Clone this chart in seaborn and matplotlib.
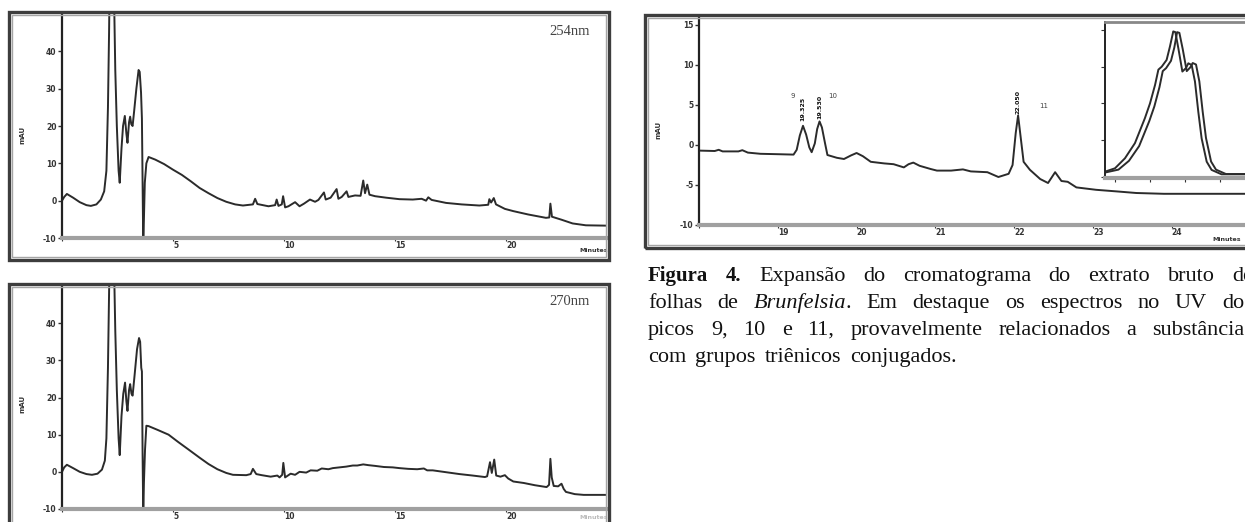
import matplotlib
matplotlib.use("Agg")
import matplotlib.pyplot as plt
import seaborn as sns
from matplotlib.patches import Rectangle

sns.set_theme(style="white")
plt.rcParams['font.family'] = ['DejaVu Sans']

W, H = 1245, 522

# --- 254 nm chromatogram (minutes, mAU) ---
t254 = [0.00, 0.10, 0.22, 0.50, 0.80, 1.10, 1.30, 1.55, 1.75, 1.90, 2.00, 2.07, 2.12, 2.15, 2.33,
        2.40, 2.47, 2.55, 2.60, 2.68, 2.75, 2.83, 2.90, 2.95, 3.02, 3.07, 3.12, 3.18, 3.25, 3.35,
        3.45, 3.50, 3.56, 3.60, 3.63, 3.66, 3.69, 3.73, 3.80, 3.90, 4.20, 4.60, 5.00, 5.40, 5.80,
        6.20, 6.60, 7.00, 7.40, 7.80, 8.15, 8.60, 8.70, 8.80, 9.30, 9.60, 9.67, 9.75, 9.90, 9.96,
        10.05, 10.20, 10.50, 10.70, 10.90, 11.17, 11.40, 11.55, 11.80, 11.88, 12.10, 12.37, 12.45,
        12.60, 12.82, 12.90, 13.20, 13.45, 13.57, 13.65, 13.75, 13.85, 14.10, 14.60, 15.20, 15.80,
        16.20, 16.40, 16.50, 16.65, 17.30, 18.00, 18.80, 19.20, 19.25, 19.33, 19.45, 19.55, 19.95,
        20.33, 21.00, 21.80, 21.95, 22.00, 22.07, 22.50, 23.00, 23.60, 24.60]
v254 = [0.0, 1.0, 1.8, 0.8, -0.4, -1.2, -1.4, -1.0, 0.3, 2.5, 8.0, 25.0, 45.0, 60.0, 60.0,
        35.0, 20.0, 8.0, 4.8, 14.0, 20.0, 22.7, 18.0, 15.5, 21.0, 22.5, 20.5, 20.0, 24.0, 30.0,
        35.0, 34.5, 29.0, 22.0, 5.0, -12.0, -5.0, 4.8, 10.0, 11.7, 11.0, 9.8, 8.3, 6.9, 5.2,
        3.4, 2.0, 0.7, -0.3, -1.0, -1.3, -1.0, 0.5, -0.9, -1.5, -1.2, 0.3, -1.4, -1.0, 1.2,
        -1.8, -1.5, -0.4, -1.5, -0.8, 0.3, -0.3, 0.2, 2.2, 0.3, 0.8, 3.1, 0.5,
        1.0, 2.5, 1.0, 1.4, 1.3, 5.4, 2.0, 4.3, 1.6, 1.2, 0.8, 0.4, 0.3,
        0.5, 0.0, 0.9, 0.2, -0.6, -1.0, -1.3, -1.1, 0.4, -0.5, 0.7, -1.0, -2.2,
        -2.8, -3.7, -4.6, -4.5, -0.8, -4.3, -5.1, -6.1, -6.6, -6.7]

# --- 270 nm chromatogram ---
t270 = [0.00, 0.10, 0.22, 0.50, 0.80, 1.10, 1.35, 1.60, 1.80, 1.93, 2.00, 2.07, 2.12, 2.15, 2.33,
        2.40, 2.47, 2.55, 2.60, 2.68, 2.76, 2.84, 2.90, 2.95, 3.02, 3.07, 3.13, 3.18, 3.27, 3.38,
        3.47, 3.52, 3.57, 3.60, 3.63, 3.66, 3.69, 3.74, 3.80, 3.90, 4.30, 4.80, 5.24, 5.70, 6.20,
        6.60, 7.00, 7.40, 7.70, 8.30, 8.50, 8.60, 8.75, 9.00, 9.40, 9.70, 9.80, 9.92, 9.97, 10.05,
        10.30, 10.50, 10.70, 11.00, 11.20, 11.50, 11.70, 12.00, 12.20, 12.50, 12.80, 13.10, 13.30,
        13.57, 13.80, 14.10, 14.50, 14.90, 15.20, 15.60, 16.00, 16.30, 16.45, 16.70, 17.30, 17.90,
        18.50, 19.05, 19.15, 19.28, 19.36, 19.47, 19.56, 19.75, 19.95, 20.10, 20.33, 20.80, 21.30,
        21.83, 21.94, 22.00, 22.06, 22.15, 22.35, 22.50, 22.60, 22.70, 23.10, 23.50, 24.60]
v270 = [0.0, 1.2, 1.9, 1.0, 0.0, -0.6, -0.8, -0.5, 0.6, 3.0, 9.0, 28.0, 48.0, 60.0, 60.0,
        38.0, 22.0, 9.0, 4.5, 15.0, 21.0, 24.0, 19.0, 16.4, 22.0, 23.6, 21.0, 20.5, 26.0, 33.0,
        36.0, 35.0, 28.0, 27.0, 5.0, -12.0, -3.0, 6.0, 12.4, 12.3, 11.3, 10.0, 8.0, 6.0, 3.8,
        2.1, 0.7, -0.3, -0.8, -0.9, -0.6, 0.8, -0.6, -0.9, -1.3, -1.0, -1.5, -0.8, 2.4, -1.5,
        -0.5, -0.8, 0.0, -0.2, 0.4, 0.3, 0.9, 0.7, 1.0, 1.2, 1.4, 1.7, 1.7,
        2.0, 1.8, 1.6, 1.3, 1.2, 1.0, 0.8, 0.7, 0.9, 0.4, 0.4, -0.1, -0.6,
        -1.0, -1.4, -1.2, 2.6, -0.3, 3.3, -1.0, -1.3, -0.9, -1.8, -2.6, -3.0, -3.6,
        -4.1, -3.5, 3.5, -1.5, -3.8, -3.9, -3.2, -4.6, -5.4, -6.0, -6.2, -6.2]

# --- expansion 18-25 min ---
t_exp = [18.00, 18.20, 18.25, 18.30, 18.50, 18.55, 18.62, 18.78, 19.00, 19.20, 19.24, 19.28, 19.32,
         19.36, 19.40, 19.43, 19.47, 19.50, 19.53, 19.56, 19.60, 19.63, 19.75, 19.84, 19.93, 20.00,
         20.08, 20.18, 20.35, 20.47, 20.60, 20.66, 20.72, 20.80, 20.94, 21.02, 21.20, 21.35, 21.45,
         21.66, 21.80, 21.93, 21.98, 22.02, 22.05, 22.08, 22.12, 22.20, 22.33, 22.43, 22.52, 22.60,
         22.68, 22.79, 23.04, 23.30, 23.55, 23.90, 24.18, 25.00]
v_exp = [-0.70, -0.75, -0.60, -0.80, -0.80, -0.65, -0.95, -1.10, -1.15, -1.20, -0.60, 1.20, 2.40,
         1.30, -0.30, -0.90, 0.20, 2.00, 2.95, 2.20, 0.20, -1.25, -1.60, -1.75, -1.30, -1.00,
         -1.40, -2.10, -2.30, -2.40, -2.80, -2.40, -2.20, -2.60, -3.00, -3.20, -3.20, -3.05, -3.30,
         -3.40, -4.00, -3.60, -2.50, 1.50, 3.70, 1.20, -2.10, -3.10, -4.25, -4.75, -3.40, -4.50,
         -4.60, -5.30, -5.60, -5.80, -6.00, -6.10, -6.10, -6.10]

peak_ids = ["9", "10", "11"]
peak_rt = [19.32, 19.53, 22.05]
peak_rt_txt = ["19.325", "19.530", "22.050"]

# --- UV spectra inset (nm, normalised absorbance) ---
lam_a = [214.3, 220.0, 225.7, 231.4, 237.1, 240.0, 242.9, 244.8, 246.7, 249.5, 251.4, 253.3, 254.5,
         256.2, 258.5, 260.5, 261.9, 263.8, 265.7, 267.6, 269.5, 272.4, 275.2, 280.9, 305.0]
abs_a = [0.036, 0.059, 0.127, 0.230, 0.400, 0.500, 0.626, 0.730, 0.750, 0.796, 0.887, 0.990, 0.985,
         0.876, 0.717, 0.740, 0.773, 0.762, 0.649, 0.444, 0.263, 0.104, 0.048, 0.018, 0.018]
lam_b = [214.3, 222.0, 228.0, 233.8, 239.6, 242.5, 245.4, 247.3, 249.2, 252.0, 253.9, 255.5, 256.8,
         258.7, 261.0, 263.0, 264.4, 266.3, 268.2, 270.1, 272.0, 274.9, 277.7, 283.4, 305.0]
abs_b = [0.030, 0.050, 0.110, 0.210, 0.380, 0.480, 0.610, 0.720, 0.740, 0.790, 0.880, 0.985, 0.980,
         0.870, 0.720, 0.745, 0.775, 0.765, 0.650, 0.445, 0.265, 0.105, 0.050, 0.020, 0.020]

fig = plt.figure(figsize=(W / 100, H / 100), dpi=100)
fig.patch.set_facecolor('white')


def px_axes(l, t, r, b):
    return fig.add_axes([l / W, 1 - b / H, (r - l) / W, (b - t) / H])


def frame(l, t, r, b):
    fig.patches.append(Rectangle((l / W, 1 - b / H), (r - l) / W, (b - t) / H, transform=fig.transFigure,
                                 fill=False, edgecolor='#3d3d3d', lw=2.4, zorder=0))
    fig.patches.append(Rectangle(((l + 3) / W, 1 - (b - 3) / H), (r - l - 6) / W, (b - t - 6) / H,
                                 transform=fig.transFigure, fill=False, edgecolor='#a5a5a5', lw=1.0, zorder=0))


def style_chrom(ax, xlim, ylim, xticks, yticks):
    ax.set_xlim(*xlim)
    ax.set_ylim(*ylim)
    ax.set_facecolor('none')
    ax.spines['top'].set_visible(False)
    ax.spines['right'].set_visible(False)
    ax.spines['left'].set_color('#222222')
    ax.spines['left'].set_linewidth(1.6)
    ax.spines['bottom'].set_color('#a0a0a0')
    ax.spines['bottom'].set_linewidth(3)
    ax.set_yticks(yticks)
    ax.set_yticklabels([str(v) for v in yticks], fontsize=5.5, fontweight='bold', color='#333333')
    ax.set_xticks(xticks)
    ax.set_xticklabels([''] + [str(v) for v in xticks[1:]], fontsize=5.5, fontweight='bold',
                       color='#333333', ha='left')
    ax.tick_params(axis='y', direction='out', length=3, width=1, pad=1, colors='#333333', left=True)
    ax.tick_params(axis='x', direction='out', length=2, width=0.8, pad=0.5, colors='#333333', bottom=True)
    ax.set_xlabel('')
    ax.set_ylabel('')
    ax.grid(False)


line_kw = dict(color='#2b2b2b', linewidth=1.4, estimator=None, sort=False)

# frames
frame(9, 12, 609, 260)
frame(9, 284, 609, 540)
frame(645, 15, 1262, 248)

# top-left: 254 nm
ax1 = px_axes(62, 14, 607, 238)
sns.lineplot(x=t254, y=v254, ax=ax1, **line_kw)
style_chrom(ax1, (0, 24.55), (-10, 50), [0, 5, 10, 15, 20], [-10, 0, 10, 20, 30, 40])
ax1.text(-0.073, 0.46, 'mAU', transform=ax1.transAxes, rotation=90, fontsize=5, fontweight='bold',
         ha='center', va='center', color='#333333')
ax1.text(0.95, -0.055, 'Minutes', transform=ax1.transAxes, fontsize=4.5, fontweight='bold',
         ha='left', va='center', color='#333333')
ax1.text(0.895, 0.92, '254nm', transform=ax1.transAxes, fontsize=10.5, family='Liberation Serif',
         ha='left', va='center', color='#444444')

# bottom-left: 270 nm
ax2 = px_axes(62, 286, 607, 509)
sns.lineplot(x=t270, y=v270, ax=ax2, **line_kw)
style_chrom(ax2, (0, 24.55), (-10, 50), [0, 5, 10, 15, 20], [-10, 0, 10, 20, 30, 40])
ax2.text(-0.073, 0.47, 'mAU', transform=ax2.transAxes, rotation=90, fontsize=5, fontweight='bold',
         ha='center', va='center', color='#333333')
ax2.text(0.95, -0.04, 'Minutes', transform=ax2.transAxes, fontsize=4.5, fontweight='bold',
         ha='left', va='center', color='#bbbbbb')
ax2.text(0.895, 0.93, '270nm', transform=ax2.transAxes, fontsize=10.5, family='Liberation Serif',
         ha='left', va='center', color='#444444')

# right: expansion
ax3 = px_axes(699, 17, 1245, 225)
sns.lineplot(x=t_exp, y=v_exp, ax=ax3, **line_kw)
style_chrom(ax3, (18, 24.93), (-10, 16), [18, 19, 20, 21, 22, 23, 24], [-10, -5, 0, 5, 10, 15])
ax3.text(-0.075, 0.457, 'mAU', transform=ax3.transAxes, rotation=90, fontsize=5, fontweight='bold',
         ha='center', va='center', color='#333333')
ax3.text(0.94, -0.072, 'Minutes', transform=ax3.transAxes, fontsize=4.5, fontweight='bold',
         ha='left', va='center', color='#333333')
id_pos = [(19.19, 6.1), (19.70, 6.1), (22.37, 4.9)]
for pid, (px, py) in zip(peak_ids, id_pos):
    ax3.text(px, py, pid, fontsize=5, color='#444444', ha='center', va='center')
rt_base = [3.0, 3.25, 3.9]
for rt, txt, yb in zip(peak_rt, peak_rt_txt, rt_base):
    ax3.text(rt, yb, txt, rotation=90, fontsize=4.5, fontweight='bold', color='#111111',
             ha='center', va='bottom')

# inset with UV spectra
ax4 = px_axes(1105, 22, 1262, 178)
ax4.set_facecolor('white')
sns.lineplot(x=lam_a, y=abs_a, ax=ax4, **line_kw)
sns.lineplot(x=lam_b, y=abs_b, ax=ax4, **line_kw)
ax4.set_xlim(214.3, 304)
ax4.set_ylim(-0.007, 1.054)
ax4.set_xticks([220, 240, 260, 280])
ax4.set_yticks([0, 0.25, 0.5, 0.75, 1.0])
ax4.set_xticklabels([])
ax4.set_yticklabels([])
ax4.tick_params(axis='both', direction='out', length=3, width=0.8, colors='#333333',
                left=True, bottom=True)
ax4.spines['right'].set_visible(False)
ax4.spines['left'].set_color('#222222')
ax4.spines['left'].set_linewidth(1.4)
ax4.spines['bottom'].set_color('#a0a0a0')
ax4.spines['bottom'].set_linewidth(3)
ax4.spines['top'].set_color('#888888')
ax4.spines['top'].set_linewidth(2)
ax4.set_xlabel('')
ax4.set_ylabel('')

# caption, justified word by word
reg_font = dict(family='Liberation Serif', size=16, color='#111111')
bold_size = 15
B = ('bold', 'normal')
N = ('normal', 'normal')
I = ('normal', 'italic')
caption = [
    [[("Figura", B)], [("4.", B)], "Expansão", "do", "cromatograma", "do", "extrato", "bruto", "de"],
    ["folhas", "de", [("Brunfelsia", I), (".", N)], "Em", "destaque", "os", "espectros", "no", "UV", "dos"],
    ["picos", "9,", "10", "e", "11,", "provavelmente", "relacionados", "a", "substâncias"],
    ["com", "grupos", "triênicos", "conjugados."],
]
baselines = [281, 308, 335, 362]
cap_left, cap_right = 648, 1253

renderer = fig.canvas.get_renderer()
sp1 = fig.text(0, 0, 'a a', **reg_font)
sp2 = fig.text(0, 0, 'aa', **reg_font)
space_w = sp1.get_window_extent(renderer).width - sp2.get_window_extent(renderer).width
sp1.remove()
sp2.remove()

for li, (line, yb) in enumerate(zip(caption, baselines)):
    words = []
    for w in line:
        segs = [(w, N)] if isinstance(w, str) else w
        objs = []
        for s, (fw, fs) in segs:
            kw = dict(reg_font)
            if fw == 'bold':
                kw['size'] = bold_size
            objs.append(fig.text(0, 1 - yb / H, s, fontweight=fw, fontstyle=fs, ha='left',
                                 va='baseline', **kw))
        words.append(objs)
    widths = [[o.get_window_extent(renderer).width for o in objs] for objs in words]
    total = sum(sum(ws) for ws in widths)
    if li < len(caption) - 1:
        gap = (cap_right - cap_left - total) / (len(words) - 1)
    else:
        gap = space_w * 1.6
    x = cap_left
    for objs, ws in zip(words, widths):
        for o, wd in zip(objs, ws):
            o.set_x(x / W)
            x += wd
        x += gap

fig.savefig('out.png', dpi=100, facecolor='white')
